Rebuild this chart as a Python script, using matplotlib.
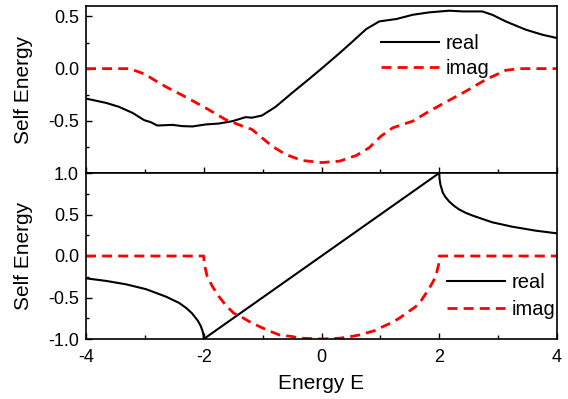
import matplotlib
matplotlib.use("Agg")
import matplotlib.pyplot as plt
from matplotlib.ticker import MultipleLocator, FixedLocator

plt.rcParams['font.family'] = ['Liberation Sans', 'DejaVu Sans']

# ---- top panel data ----
top_real_E = [-4.0, -3.66, -3.44, -3.21, -3.01, -2.90, -2.79, -2.53, -2.36, -2.19,
              -1.97, -1.74, -1.51, -1.29, -1.18, -1.01, -0.78, -0.50, -0.21, 0.0,
              0.31, 0.53, 0.76, 0.98, 1.10, 1.27, 1.55, 1.83, 2.17, 2.40, 2.73,
              2.90, 3.13, 3.47, 3.75, 4.0]
top_real_v = [-0.287, -0.328, -0.366, -0.424, -0.494, -0.513, -0.545, -0.539, -0.551, -0.554,
              -0.535, -0.526, -0.503, -0.465, -0.47, -0.449, -0.366, -0.233, -0.099, 0.0,
              0.15, 0.261, 0.379, 0.452, 0.462, 0.475, 0.516, 0.539, 0.555, 0.548, 0.548,
              0.516, 0.452, 0.373, 0.325, 0.293]

top_imag_E = [-4.0, -3.27, -3.21, -2.98, -2.87, -2.64, -2.31, -1.97, -1.63, -1.34,
              -1.18, -1.01, -0.84, -0.61, -0.33, 0.0, 0.31, 0.59, 0.81, 1.01,
              1.21, 1.55, 1.83, 2.17, 2.45, 2.79, 3.13, 3.36, 4.0]
top_imag_v = [0.0, 0.0, -0.01, -0.057, -0.099, -0.175, -0.271, -0.376, -0.488, -0.551,
              -0.583, -0.663, -0.743, -0.822, -0.88, -0.90, -0.886, -0.832, -0.758, -0.647,
              -0.567, -0.503, -0.408, -0.303, -0.217, -0.105, -0.016, 0.0, 0.0]

# ---- bottom panel data ----
bot_real_E = [-4.0, -3.66, -3.32, -2.98, -2.64, -2.42, -2.3, -2.2, -2.1, -2.05, -2.02,
              -2.005, -2.0, 0.0, 2.0, 2.005, 2.02, 2.06, 2.1, 2.17, 2.25, 2.34, 2.45,
              2.57, 2.90, 3.24, 3.64, 4.0]
bot_real_v = [-0.269, -0.30, -0.341, -0.40, -0.49, -0.565, -0.625, -0.69, -0.78, -0.845, -0.905,
              -0.95, -1.0, 0.0, 1.0, 0.93, 0.86, 0.765, 0.715, 0.655, 0.605, 0.56, 0.52,
              0.486, 0.406, 0.353, 0.305, 0.273]

bot_imag_E = [-4.0, -2.0, -1.99, -1.94, -1.85, -1.74, -1.63, -1.49, -1.39, -1.2, -1.05,
              -0.9, -0.71, -0.5, -0.37, 0.0, 0.31, 0.5, 0.64, 0.9, 0.98, 1.2, 1.32,
              1.5, 1.60, 1.7, 1.83, 1.94, 1.99, 2.0, 4.0]
bot_imag_v = [0.0, 0.0, -0.10, -0.25, -0.37, -0.49, -0.59, -0.69, -0.723, -0.80, -0.851,
              -0.90, -0.952, -0.97, -0.99, -1.0, -0.99, -0.97, -0.952, -0.90, -0.871, -0.80, -0.75,
              -0.66, -0.61, -0.53, -0.39, -0.25, -0.10, 0.0, 0.0]

xticks = [-4, -2, 0, 2, 4]
xlabels = ['-4', '-2', '0', '2', '4']

fig = plt.figure(figsize=(5.68, 3.99), dpi=100)
L = 86 / 568
W = (557 - 86) / 568
ax1 = fig.add_axes([L, (399 - 173) / 399, W, 167 / 399])
ax2 = fig.add_axes([L, (399 - 339) / 399, W, 166 / 399])

red = '#FF0000'
dash = (3.6, 2.2)

ax1.plot(top_real_E, top_real_v, color='black', lw=1.5, label='real')
ax1.plot(top_imag_E, top_imag_v, color=red, lw=2.0, dashes=dash, label='imag')
ax2.plot(bot_real_E, bot_real_v, color='black', lw=1.5, label='real')
ax2.plot(bot_imag_E, bot_imag_v, color=red, lw=2.0, dashes=dash, label='imag')

ax1.set_ylim(-1.0, 0.6)
ax2.set_ylim(-1.0, 1.0)
for ax in (ax1, ax2):
    ax.set_xlim(-4, 4)
    ax.set_xticks(xticks)
    ax.xaxis.set_minor_locator(MultipleLocator(1))
    ax.tick_params(axis='x', which='major', direction='in', length=4.5, width=1.0,
                   labelsize=13, pad=7, top=False)
    ax.tick_params(axis='x', which='minor', direction='in', length=3, width=1.0, top=False)
    ax.tick_params(axis='y', which='major', direction='in', length=4, width=1.0,
                   labelsize=13, pad=5, right=False)
    ax.tick_params(axis='y', which='minor', direction='in', length=2.5, width=1.0, right=False)
    for s in ax.spines.values():
        s.set_linewidth(1.2)
    ax.set_ylabel('Self Energy', fontsize=15)

ax1.yaxis.set_major_locator(FixedLocator([-0.5, 0.0, 0.5]))
ax1.yaxis.set_minor_locator(FixedLocator([-0.75, -0.25, 0.25]))
ax1.set_yticklabels(['-0.5', '0.0', '0.5'])
ax1.tick_params(axis='x', labelbottom=False)

ax2.yaxis.set_major_locator(FixedLocator([-1.0, -0.5, 0.0, 0.5, 1.0]))
ax2.yaxis.set_minor_locator(FixedLocator([-0.75, -0.25, 0.25, 0.75]))
ax2.set_yticklabels(['-1.0', '-0.5', '0.0', '0.5', '1.0'])
ax2.set_xticklabels(xlabels)
ax2.set_xlabel('Energy E', fontsize=15, labelpad=6)

for ax in (ax1, ax2):
    ax.yaxis.set_label_coords(-0.112, 0.5)

ax1.legend(loc='upper left', bbox_to_anchor=(0.626, 0.83), frameon=False, fontsize=14.5,
           handlelength=2.9, handletextpad=0.3, labelspacing=0.3, borderpad=0,
           borderaxespad=0)
ax2.legend(loc='upper left', bbox_to_anchor=(0.766, 0.40), frameon=False, fontsize=14.5,
           handlelength=2.9, handletextpad=0.3, labelspacing=0.42, borderpad=0,
           borderaxespad=0)

fig.savefig('out.png', dpi=100)
